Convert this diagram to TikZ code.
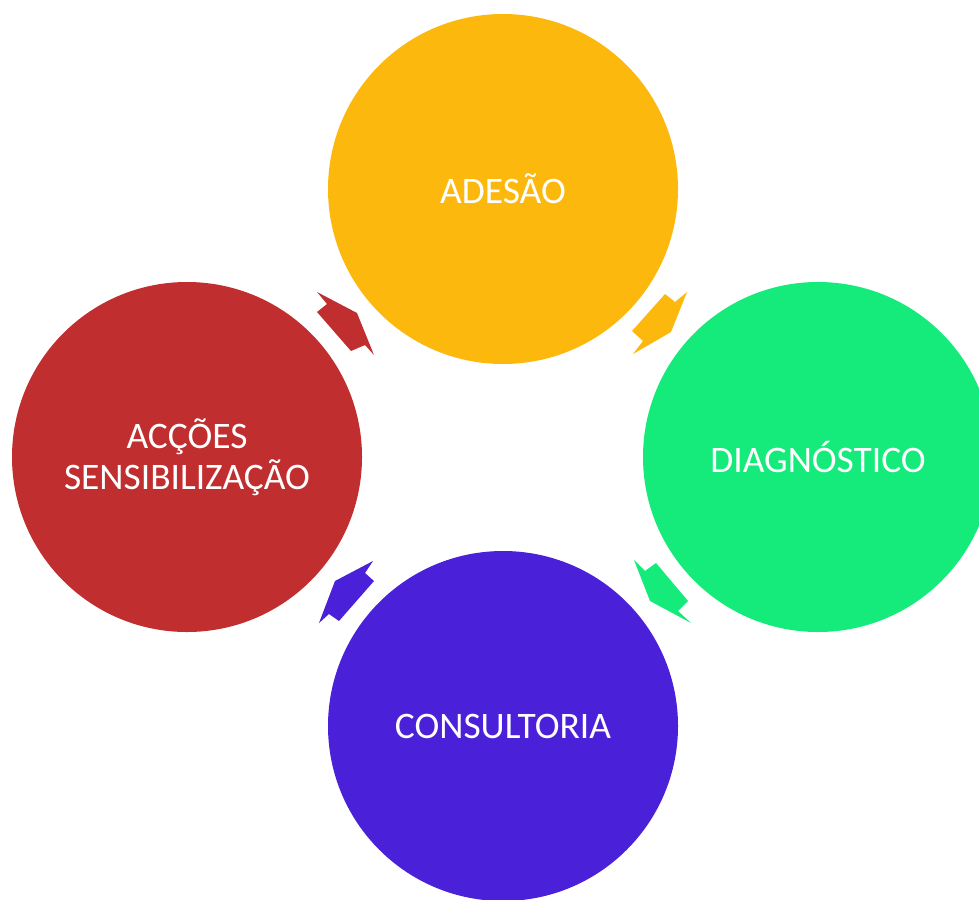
\documentclass[tikz,border=0pt]{standalone}
\usepackage{fontspec}
\setmainfont{Carlito}
\definecolor{adesao}{RGB}{253,184,14}
\definecolor{diag}{RGB}{20,235,123}
\definecolor{consult}{RGB}{74,33,216}
\definecolor{accoes}{RGB}{193,46,47}
\tikzset{ball/.style={circle,minimum size=70mm,inner sep=0pt,text=white,align=center,
  font=\fontsize{21.3}{23.2}\selectfont}}
\begin{document}
\begin{tikzpicture}[x=0.2mm,y=-0.2mm]
\useasboundingbox (0,0) rectangle (979,899);
\clip (0,0) rectangle (979,899);
\node[ball,fill=adesao] (ades) at (503,189) {ADESÃO};
\node[ball,fill=diag] (diag) at (818,457) {DIAGNÓSTICO};
\node[ball,fill=consult] (cons) at (503,726) {CONSULTORIA};
\node[ball,fill=accoes] (acc) at (187,457) {ACÇÕES\\SENSIBILIZAÇÃO};
\fill[adesao] (665,294) -- (675,302) -- (687,292) -- (671,332) -- (633,354) -- (643,341) -- (632,331) -- cycle;
\fill[diag] (634,560) -- (645,571) -- (656,563) -- (688,601) -- (678,611) -- (691,623) -- (650,601) -- cycle;
\fill[consult] (373,561) -- (365,573) -- (374,581) -- (339,621) -- (329,614) -- (319,623) -- (335,581) -- cycle;
\fill[accoes] (317,292) -- (357,313) -- (374,355) -- (365,345) -- (351,351) -- (317,312) -- (327,304) -- cycle;
\end{tikzpicture}
\end{document}
